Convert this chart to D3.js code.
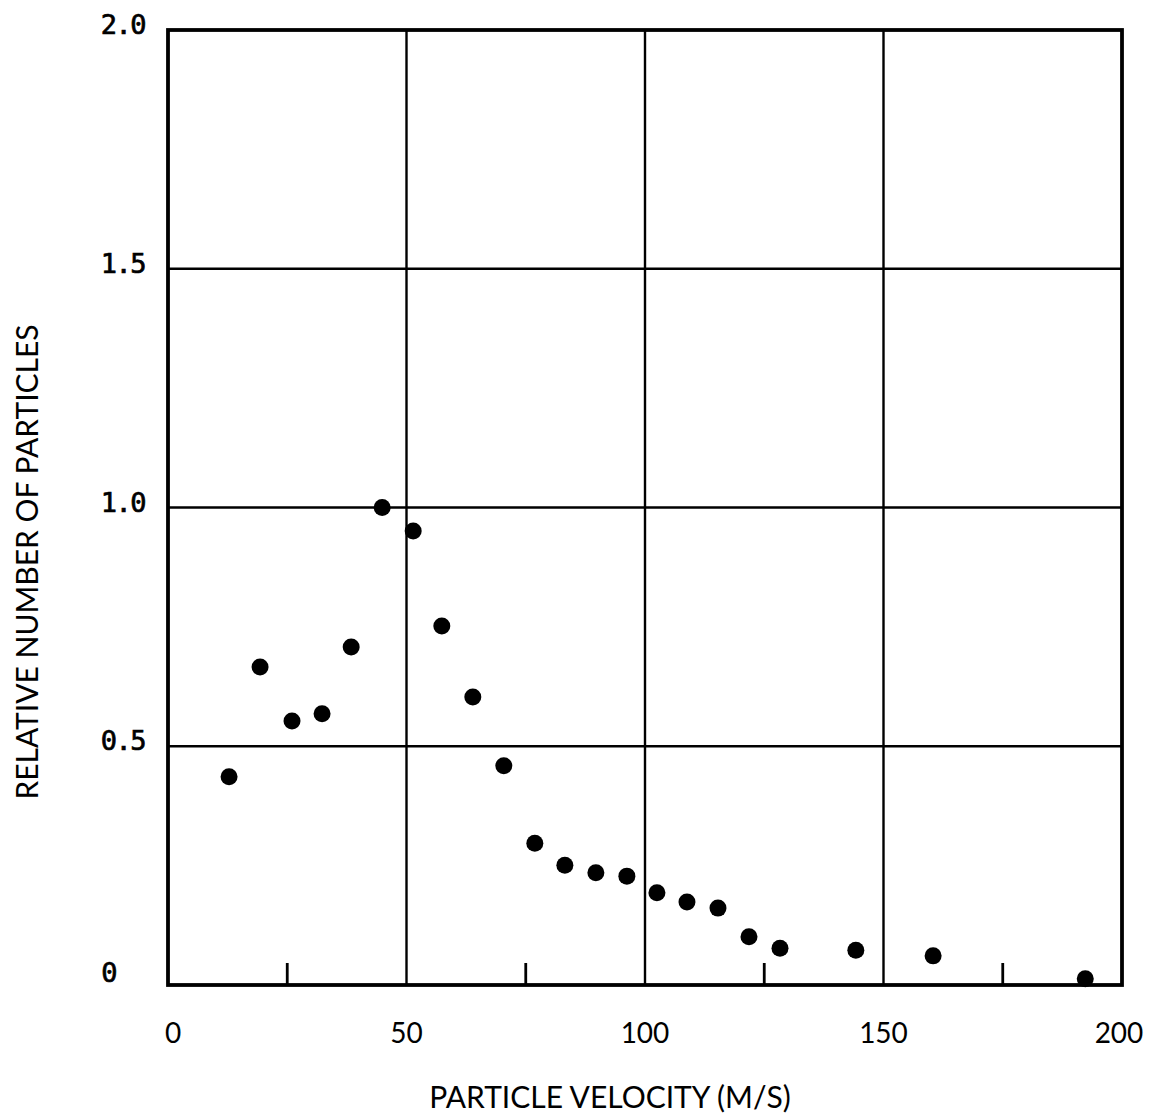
<!DOCTYPE html>
<html>
<head>
<meta charset="utf-8">
<script src="https://cdn.jsdelivr.net/npm/d3@7"></script>
<style>
  body { margin: 0; background: #fff; }
  svg { display: block; }
</style>
</head>
<body>
<div id="chart"></div>
<script>
// velocity (m/s) and relative number of particles
const velocity = [12.8, 19.3, 26.0, 32.3, 38.4, 44.9, 51.4, 57.4, 63.9, 70.4, 76.9,
                  83.2, 89.7, 96.2, 102.5, 108.8, 115.3, 121.8, 128.3, 144.2, 160.4, 192.3];
const relNumber = [0.436, 0.666, 0.553, 0.568, 0.708, 1.0, 0.951, 0.752, 0.603, 0.459, 0.297,
                   0.251, 0.235, 0.228, 0.193, 0.174, 0.161, 0.101, 0.077, 0.073, 0.061, 0.013];

const xTicks = [0, 50, 100, 150, 200];
const xMinorTicks = [25, 75, 125, 175];
const yTicks = [0, 0.5, 1.0, 1.5, 2.0];
const yTickLabels = ["0", "0.5", "1.0", "1.5", "2.0"];

const width = 1153;
const height = 1117;
const margin = { top: 30, right: 31, bottom: 132, left: 168 };
const innerW = width - margin.left - margin.right;
const innerH = height - margin.top - margin.bottom;

const svg = d3.select("#chart")
    .append("svg")
    .attr("width", width)
    .attr("height", height);

const x = d3.scaleLinear().domain([0, 200]).range([margin.left, margin.left + innerW]);
const y = d3.scaleLinear().domain([0, 2]).range([margin.top + innerH, margin.top]);

// grid lines
svg.append("g")
    .selectAll("line")
    .data(xTicks.slice(1, -1))
    .enter().append("line")
    .attr("x1", d => x(d)).attr("x2", d => x(d))
    .attr("y1", y(0)).attr("y2", y(2))
    .attr("stroke", "#000")
    .attr("stroke-width", 2.4);

svg.append("g")
    .selectAll("line")
    .data(yTicks.slice(1, -1))
    .enter().append("line")
    .attr("x1", x(0)).attr("x2", x(200))
    .attr("y1", d => y(d)).attr("y2", d => y(d))
    .attr("stroke", "#000")
    .attr("stroke-width", 2.4);

// minor ticks along the bottom
svg.append("g")
    .selectAll("line")
    .data(xMinorTicks)
    .enter().append("line")
    .attr("x1", d => x(d)).attr("x2", d => x(d))
    .attr("y1", y(0)).attr("y2", y(0) - 22)
    .attr("stroke", "#000")
    .attr("stroke-width", 2.8);

// frame
svg.append("rect")
    .attr("x", x(0))
    .attr("y", y(2))
    .attr("width", x(200) - x(0))
    .attr("height", y(0) - y(2))
    .attr("fill", "none")
    .attr("stroke", "#000")
    .attr("stroke-width", 3.8);

// data points
svg.append("g")
    .selectAll("circle")
    .data(velocity.map((v, i) => ({ v, n: relNumber[i] })))
    .enter().append("circle")
    .attr("cx", d => x(d.v))
    .attr("cy", d => y(d.n))
    .attr("r", 8.5)
    .attr("fill", "#000");

// y tick labels
svg.append("g")
    .selectAll("text")
    .data(yTicks)
    .enter().append("text")
    .attr("x", (d, i) => i === 0 ? 116 : 145)
    .attr("y", (d, i) => y(d) + (i === 0 ? -3 : 4))
    .attr("text-anchor", "end")
    .style("font-family", "'DejaVu Sans Mono', monospace")
    .style("font-size", "27px")
    .style("letter-spacing", "-1.5px")
    .style("fill", "#000")
    .style("stroke", "#000")
    .style("stroke-width", "0.7px")
    .text((d, i) => yTickLabels[i]);

// x tick labels
svg.append("g")
    .selectAll("text")
    .data(xTicks)
    .enter().append("text")
    .attr("x", d => x(d) + (d === 0 ? 5 : d === 200 ? -3 : 0))
    .attr("y", 1043)
    .attr("text-anchor", "middle")
    .style("font-family", "Lato, sans-serif")
    .style("font-size", "28px")
    .style("fill", "#000")
    .text(d => d);

// axis titles
svg.append("text")
    .attr("x", 610)
    .attr("y", 1108)
    .attr("text-anchor", "middle")
    .style("font-family", "Lato, sans-serif")
    .style("font-size", "30px")
    .style("fill", "#000")
    .text("PARTICLE VELOCITY (M/S)");

svg.append("text")
    .attr("transform", "translate(38,562) rotate(-90)")
    .attr("text-anchor", "middle")
    .style("font-family", "Lato, sans-serif")
    .style("font-size", "30px")
    .style("fill", "#000")
    .text("RELATIVE NUMBER OF PARTICLES");
</script>
</body>
</html>
